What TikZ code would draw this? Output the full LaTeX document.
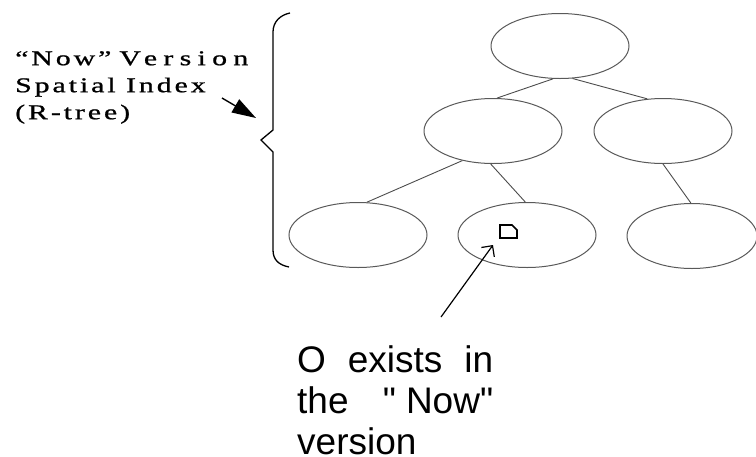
\documentclass[tikz,border=0pt]{standalone}
\usepackage{fontspec}
\setmainfont{Liberation Serif}
\newfontfamily\notefont{Liberation Sans}
\newfontfamily\indexfont[FakeStretch=1.42,LetterSpace=14,FakeBold=1]{Liberation Serif}
\usetikzlibrary{arrows.meta,shapes.geometric}
\tikzset{
  treenode/.style={draw=black!65,line width=1pt,ellipse,minimum width=138pt,minimum height=65pt,inner sep=0pt},
  treeedge/.style={draw=black!70,line width=0.9pt},
  braceline/.style={draw=black,line width=1.3pt}
}
\begin{document}
\begin{tikzpicture}[x=1pt,y=-1pt]
    \useasboundingbox (0,0) rectangle (756,456);
    % R-tree nodes
    \node[treenode] (root) at (560,46) {};
    \node[treenode] (ml) at (493,131) {};
    \node[treenode] (mr) at (663,131) {};
    \node[treenode] (bl) at (358,235) {};
    \node[treenode] (bm) at (527,235) {};
    \node[treenode,minimum width=130pt] (br) at (692,236) {};
    % edges
    \draw[treeedge] (root.258) -- (ml.83);
    \draw[treeedge] (root.291) -- (mr.116);
    \draw[treeedge] (ml.224) -- (bl.75);
    \draw[treeedge] (ml.266) -- (bm.93);
    \draw[treeedge] (mr.270) -- (br.92);
    % object O
    \draw[line width=1.6pt] (500,225) -- (512,225) -- (517,230) -- (517,238) -- (500,238) -- cycle;
    \coordinate (obj) at (493,245);
    % brace
    \draw[braceline] (290,13) .. controls (280,15) and (273,22) .. (273,32) -- (273,130)
      -- (261,140) -- (273,152) -- (273,250) .. controls (273,260) and (279,265) .. (289,267);
    % labels
    \node[anchor=north west,inner sep=0pt,align=left,font=\indexfont\fontsize{21}{27}\selectfont] (idx) at (15,51)
      {“Now”\hspace{8pt}{\addfontfeature{LetterSpace=30}Version}\\Spatial Index\\(R-tree)};
    \coordinate (bracetip) at (256,118);
    \draw[line width=1.4pt,-{Triangle[length=24pt,width=15pt]}] (222,98) -- (bracetip);
    \node[anchor=north west,inner sep=0pt,text width=196pt,align=left,font=\notefont\fontsize{37}{41}\selectfont] (note) at (297,345)
      {O\hfill exists\hfill in\\the\hfill "\hspace{10pt}Now"\\version};
    \coordinate (notetop) at (441,317);
    \draw[line width=1.2pt,-{Straight Barb[length=8pt,width=16pt]}] (notetop) -- (obj);
\end{tikzpicture}
\end{document}
